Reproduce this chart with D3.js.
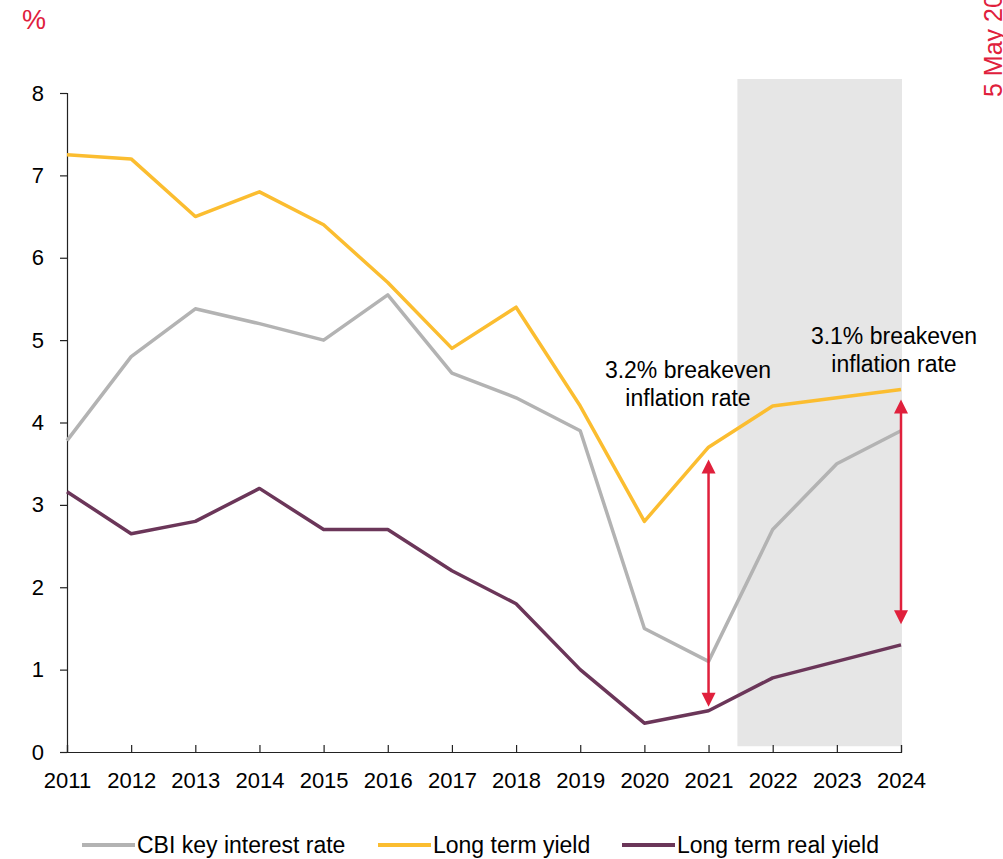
<!DOCTYPE html>
<html>
<head>
<meta charset="utf-8">
<script src="https://cdn.jsdelivr.net/npm/d3@7"></script>
<style>
  body { margin: 0; background: #fff; }
  text { font-family: "Liberation Sans", Arial, sans-serif; }
</style>
</head>
<body>
<div id="chart-area"></div>
<script>
// data
let years = [2011, 2012, 2013, 2014, 2015, 2016, 2017, 2018, 2019, 2020, 2021, 2022, 2023, 2024];
let cbiRate = [3.78, 4.8, 5.38, 5.2, 5.0, 5.55, 4.6, 4.3, 3.9, 1.5, 1.1, 2.7, 3.5, 3.9];
let longYield = [7.25, 7.2, 6.5, 6.8, 6.4, 5.7, 4.9, 5.4, 4.2, 2.8, 3.7, 4.2, 4.3, 4.4];
let realYield = [3.16, 2.65, 2.8, 3.2, 2.7, 2.7, 2.2, 1.8, 1.0, 0.35, 0.5, 0.9, 1.1, 1.3];
let yTicks = [0, 1, 2, 3, 4, 5, 6, 7, 8];
let seriesNames = ["CBI key interest rate", "Long term yield", "Long term real yield"];
let colors = ["#b3b3b3", "#fbbd30", "#6b3659"];
// breakeven arrows: [year, low, high, label]
let arrows = [[2021, 0.55, 3.55, ["3.2% breakeven", "inflation rate"]],
              [2024, 1.55, 4.28, ["3.1% breakeven", "inflation rate"]]];
let forecastStart = 2021.45;

let W = 1003, H = 859;
let margin = {top: 93, left: 67};
let width = 834, height = 659;

let svg = d3.select("#chart-area").append("svg")
  .attr("width", W).attr("height", H);

let g = svg.append("g")
  .attr("transform", "translate(" + margin.left + "," + margin.top + ")");

let x = d3.scaleLinear().domain([2011, 2024]).range([0, width]);
let y = d3.scaleLinear().domain([0, 8]).range([height, 0]);

// forecast shading
g.append("rect")
  .attr("x", x(forecastStart))
  .attr("y", y(8.17))
  .attr("width", x(2024) + 1 - x(forecastStart))
  .attr("height", y(0.07) - y(8.17))
  .attr("fill", "#e6e6e6");

// axes
let yAxis = d3.axisLeft(y).tickValues(yTicks).tickSize(7).tickPadding(16).tickFormat(d3.format("d"));
let yg = g.append("g").call(yAxis);
let xAxis = d3.axisBottom(x).tickValues(years).tickSize(-7).tickPadding(20).tickFormat(d3.format("d"));
let xg = g.append("g").attr("transform", "translate(0," + height + ")").call(xAxis);
[yg, xg].forEach(function(a) {
  a.select(".domain").attr("stroke", "#222").attr("stroke-width", 1.2);
  a.selectAll(".tick line").attr("stroke", "#222").attr("stroke-width", 1.2);
  a.selectAll("text").attr("font-size", 22).attr("fill", "#000")
    .attr("font-family", "'Liberation Sans', Arial, sans-serif");
});
yg.select(".domain").attr("d", "M-7,0.5H0.5V" + (height + 0.5));

// lines
let allSeries = [cbiRate, longYield, realYield];
let line = d3.line()
  .x(function(d, i) { return x(years[i]); })
  .y(function(d) { return y(d); });
allSeries.forEach(function(s, k) {
  g.append("path")
    .datum(s)
    .attr("fill", "none")
    .attr("stroke", colors[k])
    .attr("stroke-width", 3.5)
    .attr("stroke-linejoin", "round")
    .attr("d", line);
});

// arrows
let red = "#e0203c";
arrows.forEach(function(a) {
  let ax = x(a[0]);
  let top = y(a[2]), bot = y(a[1]);
  g.append("line")
    .attr("x1", ax).attr("x2", ax)
    .attr("y1", top + 12).attr("y2", bot - 12)
    .attr("stroke", red).attr("stroke-width", 2.5);
  g.append("path")
    .attr("d", "M" + (ax - 7) + "," + (top + 14) + "L" + ax + "," + top + "L" + (ax + 7) + "," + (top + 14) + "Z")
    .attr("fill", red);
  g.append("path")
    .attr("d", "M" + (ax - 7) + "," + (bot - 14) + "L" + ax + "," + bot + "L" + (ax + 7) + "," + (bot - 14) + "Z")
    .attr("fill", red);
});

// annotation labels
let notePos = [[688, 378], [894, 344]];
arrows.forEach(function(a, k) {
  a[3].forEach(function(t, j) {
    svg.append("text")
      .attr("x", notePos[k][0]).attr("y", notePos[k][1] + j * 28)
      .attr("text-anchor", "middle")
      .attr("font-size", 23).text(t);
  });
});

// unit label
svg.append("text").attr("x", 22).attr("y", 29)
  .attr("font-size", 27).attr("fill", red).text("%");

// rotated date, cut off at the edge as in the original
svg.append("text")
  .attr("transform", "translate(1002,97) rotate(-90)")
  .attr("font-size", 25).attr("fill", red).text("5 May 2023");

// legend
let legendX = [82, 378, 622];
seriesNames.forEach(function(name, k) {
  let lg = svg.append("g").attr("transform", "translate(" + legendX[k] + ",845)");
  lg.append("line").attr("x1", 0).attr("x2", 53).attr("y1", 0).attr("y2", 0)
    .attr("stroke", colors[k]).attr("stroke-width", 4);
  lg.append("text").attr("x", 55).attr("y", 8).attr("font-size", 23).text(name);
});
</script>
</body>
</html>
